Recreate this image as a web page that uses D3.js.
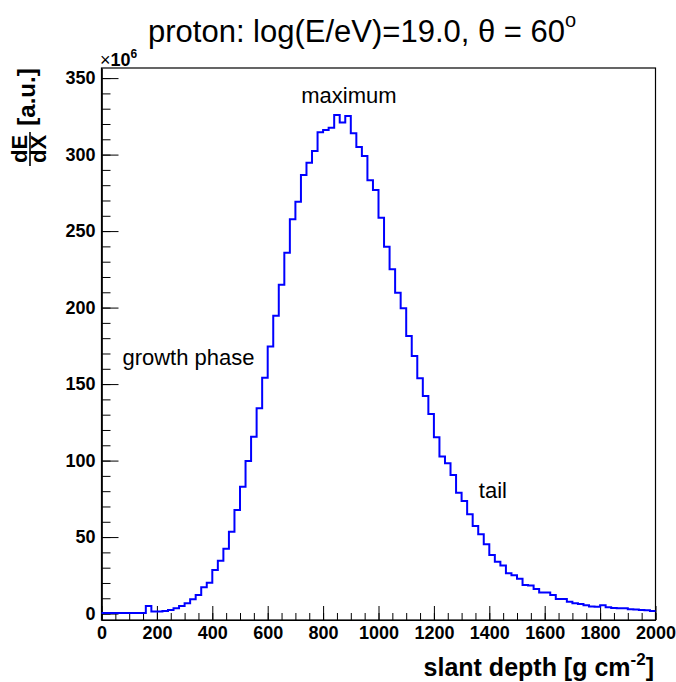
<!DOCTYPE html>
<html><head><meta charset="utf-8">
<script src="https://cdn.jsdelivr.net/npm/d3@7"></script>
<style>body{margin:0;background:#fff} svg{display:block}</style>
</head><body>
<script>
// ---- data ----
const binWidth = 20;                 // g cm^-2
const binLowEdges = d3.range(0, 2000, binWidth);
const dEdX = [ // x 10^6, one value per 20 g cm^-2 bin
  0.3,0.3,0.3,0.3,0.3,0.3,0.3,0.3, 5.0,1.3,
  1.4,1.7,2.4,3.4,4.9,6.7,9.3,12.2,17.2,20.2,
  28.5,34.6,42.4,53.5,67.7,82.9,99.7,115.6,134.2,154.2,
  174.5,194.7,215.0,235.9,257.7,269.2,286.7,294.7,302.4,314.6,
  316.1,317.6,325.9,320.9,325.2,313.9,305.0,299.0,283.2,276.9,
  258.7,239.8,225.0,209.7,199.5,181.4,168.4,153.8,142.2,130.5,
  115.2,102.6,98.2,90.6,79.0,73.6,64.9,57.3,51.8,45.3,
  38.3,33.9,31.4,26.3,25.0,22.7,18.7,18.3,16.0,13.7,
  13.7,12.2,9.5,9.5,7.8,6.7,6.3,5.4,4.7,4.5,
  5.4,4.1,3.6,3.4,3.4,2.8,2.6,2.3,2.1,1.7
];
const xTickLabels = [0,200,400,600,800,1000,1200,1400,1600,1800,2000];
const xMinorTicks = d3.range(0, 2001, 50);
const yTickLabels = [0,50,100,150,200,250,300,350];
const yMinorTicks = d3.range(0, 351, 10);
const annotations = [
  {text:"maximum", x:893, y:333.5},
  {text:"growth phase", x:314, y:162.5},
  {text:"tail", x:1413, y:75.7}
];

// ---- chart ----
const W = 676, H = 682;
const svg = d3.select("body").append("svg").attr("width", W).attr("height", H)
  .style("font-family", "'Liberation Sans', Arial, Helvetica, sans-serif");

const x = d3.scaleLinear().domain([0, 2000]).range([101.5, 655.5]);
const y = d3.scaleLinear().domain([-4.2, 356.6]).range([620, 68]);

// frame
svg.append("rect").attr("x", x(0)).attr("y", y(356.6))
  .attr("width", x(2000) - x(0)).attr("height", y(-4.2) - y(356.6))
  .attr("fill", "none").attr("stroke", "#000").attr("stroke-width", 1.2);

// x axis minor ticks
svg.append("g").attr("transform", `translate(0,${y(-4.2)})`)
  .call(d3.axisBottom(x).tickValues(xMinorTicks).tickSizeInner(-7).tickSizeOuter(0).tickFormat(""));
// x axis major
svg.append("g").attr("transform", `translate(0,${y(-4.2)})`)
  .call(d3.axisBottom(x).tickValues(xTickLabels).tickSizeInner(-14).tickSizeOuter(0).tickPadding(6).tickFormat(d3.format("d")));
// y axis minor
svg.append("g").attr("transform", `translate(${x(0)},0)`)
  .call(d3.axisLeft(y).tickValues(yMinorTicks).tickSizeInner(-9).tickSizeOuter(0).tickFormat(""));
svg.append("g").attr("transform", `translate(${x(0)},0)`)
  .call(d3.axisLeft(y).tickValues(yTickLabels).tickSizeInner(-17).tickSizeOuter(0).tickPadding(6).tickFormat(d3.format("d")));

svg.selectAll(".domain").attr("stroke", "#000").attr("stroke-width", 1.2);
svg.selectAll(".tick line").attr("stroke", "#000").attr("stroke-width", 1);
svg.selectAll(".tick text").attr("font-family", "'Liberation Sans', Arial, sans-serif")
  .attr("font-weight", "bold").attr("font-size", 18).attr("fill", "#000");

// histogram
const pts = binLowEdges.map((e, i) => [e, dEdX[i]]);
pts.push([2000, dEdX[dEdX.length - 1]]);
svg.append("path").datum(pts)
  .attr("d", d3.line().x(d => x(d[0])).y(d => y(d[1])).curve(d3.curveStepAfter))
  .attr("fill", "none").attr("stroke", "#0000ff").attr("stroke-width", 2);

// title
const t = svg.append("text").attr("x", 148).attr("y", 42).attr("font-size", 31).attr("fill", "#000");
t.append("tspan").text("proton: log(E/eV)=19.0, \u03b8 = 60");
t.append("tspan").attr("font-size", 20).attr("dy", -15).text("o");

// x10^6
const m = svg.append("text").attr("x", 100).attr("y", 66).attr("font-size", 18).attr("fill", "#000");
m.append("tspan").text("\u00d7");
m.append("tspan").attr("font-weight", "bold").text("10");
m.append("tspan").attr("font-weight", "bold").attr("font-size", 12).attr("dy", -8).text("6");

// x title
const xt = svg.append("text").attr("x", 654).attr("y", 676).attr("text-anchor", "end")
  .attr("font-size", 25).attr("font-weight", "bold").attr("fill", "#000");
xt.append("tspan").text("slant depth [g cm");
xt.append("tspan").attr("font-size", 17).attr("dy", -11).text("-2");
xt.append("tspan").attr("dy", 11).text("]");

// y title (rotated)
const yt = svg.append("g").attr("transform", "rotate(-90)")
  .attr("font-weight", "bold").attr("fill", "#000");
yt.append("text").attr("x", -149).attr("y", 27).attr("text-anchor", "middle").attr("font-size", 22).text("dE");
yt.append("line").attr("x1", -166).attr("x2", -132).attr("y1", 30).attr("y2", 30)
  .attr("stroke", "#000").attr("stroke-width", 1.6);
yt.append("text").attr("x", -149).attr("y", 46).attr("text-anchor", "middle").attr("font-size", 22).text("dX");
yt.append("text").attr("x", -97).attr("y", 35).attr("text-anchor", "middle").attr("font-size", 24).text("[a.u.]");

// annotations
svg.selectAll(".ann").data(annotations).join("text").attr("class", "ann")
  .attr("x", d => x(d.x)).attr("y", d => y(d.y))
  .attr("text-anchor", "middle").attr("font-size", 22).attr("fill", "#000")
  .text(d => d.text);
</script>
</body></html>
